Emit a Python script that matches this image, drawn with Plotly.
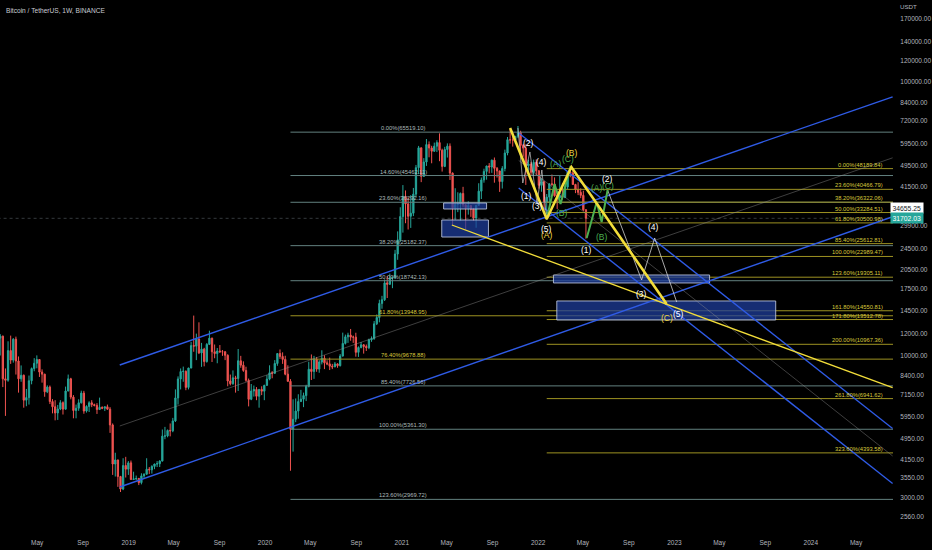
import numpy as np
import pandas as pd
import plotly.graph_objects as go

# ---------------- DATA ----------------
week_start = pd.date_range('2018-01-15', periods=226, freq='7D')

candle_open = [
 13650,11550,11750,8200,8100,10400,9600,11450,9530,8200,8450,6850,7000,8070,8940,9350,9650,8680,8530,7350,7650,6770,6480,6150,6360,6710,6350,7400,8200,7030,6280,6400,6700,7270,6250,6500,6700,6600,6550,6330,6450,6400,6480,6350,5560,4000,4140,3600,3240,3950,3830,
 4040,3510,3530,3540,3420,3620,3670,3830,3810,3920,4000,4010,4100,5060,5070,5310,5290,5750,6980,8190,8720,8740,7630,8980,10850,10800,11470,10200,10530,9480,10960,11550,10300,10140,10370,10300,10300,10000,8050,7870,8270,8220,9550,9200,8800,8100,6900,7400,7500,7080,7500,7390,
 7760,8180,8630,8590,9330,10150,9900,9660,8530,8030,5360,5830,6250,6770,6910,7120,7700,8890,8720,9670,8900,9450,9750,9380,9300,9120,9070,9300,9160,9930,11050,11680,11850,11650,11650,10250,10680,10920,10770,10660,11390,11500,13030,13740,15480,15960,18400,18180,19150,19270,23470,26440,
 32180,38150,35800,32260,33100,38870,48580,57410,45130,50970,59000,57350,55800,58200,60000,56250,49100,56600,58240,46400,34650,35660,35800,39100,35500,34700,35290,34240,31780,35400,39850,43800,47080,49270,48850,51750,48300,47260,43200,48230,54950,61500,61300,61300,63270,65500,58600,57270,49400,50100,46700,50800,
 47300,41860,43100,36300,37900,42400,42200,38350,37700,38400,37800,41260,46830,46400,42150,40380,39450,38470,34060]
candle_high = [
 14000,11950,11800,8950,11250,11800,11550,11700,9900,9180,8500,7530,8430,9020,9760,9990,9680,8880,8550,7760,7750,6910,6850,6580,6850,6780,7680,8500,8270,7150,6600,6900,7420,7410,6560,6790,6850,6650,6680,7000,6500,6470,6600,6460,5630,4400,4150,3620,4200,4250,4100,
 4120,3750,3630,3560,3700,3700,4200,3900,3960,4010,4100,4130,5350,5470,5350,5630,5900,7500,8370,8950,9090,8800,9000,11200,13970,12000,13200,11100,10650,11080,12300,11600,10950,10630,10900,10450,10350,10080,8500,8800,8410,10540,9950,9500,9080,8220,7850,7750,7650,7520,7700,7800,
 8460,9190,8750,9600,10150,10500,10250,9960,9190,8180,6900,6950,7200,7470,7300,7800,9470,10070,9950,9850,9600,10430,10000,9590,9800,9300,9450,9350,10100,12100,11900,12090,12480,11800,12090,10780,11180,10980,10950,11500,11720,13350,14100,15970,16500,18950,19500,19900,19420,24300,28400,34800,
 41950,40100,37850,38530,40950,49700,58350,57500,52640,61840,60600,58400,60000,61200,64850,57000,57900,59600,59600,46660,40850,39480,39400,41330,35700,36600,35300,34600,35400,42600,44700,48150,49380,50500,52000,52920,48850,47330,49200,56560,62900,67000,63700,63400,69000,66300,59300,59100,51950,51000,52000,52100,
 47550,44400,43500,38900,42650,45850,44750,39500,45400,42600,42300,46900,48190,47450,42400,42970,40800,40000,34240]
candle_low = [
 9035,9980,7650,6000,8000,9300,9400,8500,7300,8000,6430,6510,6600,7830,8740,8960,8330,7940,7050,7270,6630,6130,5780,5800,6300,6070,6330,7380,6900,5880,5880,6260,6660,6110,6170,6200,6460,6500,6100,6320,6350,6250,6320,5200,3650,3600,3300,3160,3210,3570,3650,
 3500,3500,3490,3350,3370,3560,3660,3680,3690,3830,3900,3900,4090,4930,5010,5050,5230,5700,6600,7500,8000,7450,7500,8960,10300,9600,10100,9070,9110,9400,10900,9450,9750,9350,10200,9950,9600,7700,7760,7800,7300,7400,9000,8700,8000,6500,6850,7060,6850,6430,7150,6850,
 7720,8100,8240,8550,9150,9700,9300,8450,8000,3780,4440,5690,5860,6770,6460,6800,7630,8120,8200,8700,8630,9260,8900,9200,8830,8900,9050,9000,9100,9900,10950,11100,11300,11100,9880,9860,10600,10140,10370,10530,11200,11400,12900,13200,14800,15800,16200,18100,17600,19000,22350,26000,
 28100,30420,28850,29240,32300,37990,46000,43000,44950,49300,53000,50400,55500,55400,51300,47000,48800,52900,43800,30000,31300,33400,31000,34800,28800,32700,32100,31000,29280,35200,37300,42800,43900,46300,46500,42800,44700,39600,40750,47100,53900,59500,58000,59400,62300,55600,53250,42000,45700,45500,45500,45700,
 40700,39650,34000,32900,36250,41650,38000,34300,37450,37150,37550,40500,44800,42100,39200,38550,37580,33700,26700]
candle_close = [
 11550,11750,8200,8100,10400,9600,11450,9530,8200,8450,6850,7000,8070,8940,9350,9650,8680,8530,7350,7650,6770,6480,6150,6360,6710,6350,7400,8200,7030,6280,6400,6700,7270,6250,6500,6700,6600,6550,6330,6450,6400,6480,6350,5560,4000,4140,3600,3240,3950,3830,4040,
 3510,3530,3540,3420,3620,3670,3830,3810,3920,4000,4010,4100,5060,5070,5310,5290,5750,6980,8190,8720,8740,7630,8980,10850,10800,11470,10200,10530,9480,10960,11550,10300,10140,10370,10300,10300,10000,8050,7870,8270,8220,9550,9200,8800,8100,6900,7400,7500,7080,7500,7390,7760,
 8180,8630,8590,9330,10150,9900,9660,8530,8030,5360,5830,6250,6770,6910,7120,7700,8890,8720,9670,8900,9450,9750,9380,9300,9120,9070,9300,9160,9930,11050,11680,11850,11650,11650,10250,10680,10920,10770,10660,11390,11500,13030,13740,15480,15960,18400,18180,19150,19270,23470,26440,32180,
 38150,35800,32260,33100,38870,48580,57410,45130,50970,59000,57350,55800,58200,60000,56250,49100,56600,58240,46400,34650,35660,35800,39100,35500,34700,35290,34240,31780,35400,39850,43800,47080,49270,48850,51750,48300,47260,43200,48230,54950,61500,61300,61300,63270,65500,58600,57270,49400,50100,46700,50800,47300,
 41860,43100,36300,37900,42400,42200,38350,37700,38400,37800,41260,46830,46400,42150,40380,39450,38470,34060,31702.03]

last_price = 31702.03
marker_price = 34655.25

# left Fibonacci retracement (log)
fibL_pct = [0.0, 14.6, 23.6, 38.2, 50.0, 61.8, 76.4, 85.4, 100.0, 123.6]
fibL_price = [65519.10, 45462.11, 36292.16, 25182.37, 18742.13, 13948.95, 9678.88, 7726.56, 5361.30, 2969.72]
fibL_gold = [False, False, False, False, False, True, True, False, False, False]
fibL_start, fibL_end, fibL_label_x = '2020-03-09', '2025-06-01', '2021-01-05'

# right Fibonacci extension (log)
fibR_pct = [0.0, 23.6, 38.2, 50.0, 61.8, 85.4, 100.0, 123.6, 161.8, 171.8, 200.0, 261.8, 323.6]
fibR_price = [48189.84, 40466.79, 36322.06, 33284.51, 30500.98, 25612.81, 22989.47, 19305.11, 14550.81, 13512.78, 10967.36, 6941.62, 4393.58]
fibR_start, fibR_end, fibR_label_x = '2022-01-24', '2025-06-01', '2024-07-18'

# rising channel
chan_up_x = ['2018-12-08', '2024-08-07']
chan_up_top = [9213, 88250]
chan_up_mid = [5511, 52780]
chan_up_bot = [3296, 32120]

# falling channel
chan_dn_x = ['2021-11-10', '2024-08-07']
chan_dn_top = [65070, 5395]
chan_dn_mid = [51620, 4280]
chan_dn_bot = [40930, 3395]

# yellow trend line
trend_x = ['2021-05-15', '2024-08-07']
trend_y = [29970, 7610]

# ABC correction (yellow)
abc_x = ['2021-10-18', '2022-01-24', '2022-03-31', '2022-12-11']
abc_y = [67870, 31520, 48860, 15400]

# impulse from top (thin white)
imp1_x = ['2021-11-08', '2021-11-21', '2021-12-10', '2021-12-29', '2022-01-11', '2022-01-24']
imp1_y = [67870, 42690, 55440, 36070, 47630, 31260]

# green corrective waves
grn1_x = ['2022-01-24', '2022-02-14', '2022-03-02', '2022-03-29']
grn1_y = [31520, 42330, 35770, 49260]
grn2_x = ['2022-05-11', '2022-06-07', '2022-06-20', '2022-07-06']
grn2_y = [26860, 36380, 30730, 40240]

# projected impulse (thin white)
imp2_x = ['2022-07-06', '2022-10-05', '2022-11-09', '2023-01-07']
imp2_y = [40240, 18860, 26860, 15660]

# zones (x0, x1, y0, y1)
zone_x0 = ['2021-04-23', '2021-04-18', '2022-02-11', '2022-02-20']
zone_x1 = ['2021-08-16', '2021-08-21', '2023-04-05', '2023-09-29']
zone_y0 = [34290, 27080, 18390, 13460]
zone_y1 = [36070, 31260, 19670, 15800]

# wave labels
lab_text = ['(2)', '(1)', '(3)', '(4)', '(5)', '(A)', '(B)', '(C)',
            '(A)', '(C)', '(B)', '(A)', '(C)', '(B)',
            '(2)', '(1)', '(4)', '(3)', '(5)']
lab_x = ['2021-12-05', '2021-12-02', '2021-12-31', '2022-01-11', '2022-01-24', '2022-01-24', '2022-04-03', '2022-12-11',
         '2022-02-17', '2022-03-21', '2022-03-05', '2022-06-07', '2022-07-06', '2022-06-20',
         '2022-07-06', '2022-05-11', '2022-11-06', '2022-10-05', '2023-01-12']
lab_y = [59800, 38260, 35180, 50950, 28970, 27550, 54970, 13690,
         50110, 52260, 33160, 40930, 41630, 27080,
         44160, 24280, 29460, 16760, 14160]
lab_kind = ['w', 'w', 'w', 'w', 'w', 'y', 'y', 'y',
            'g', 'g', 'g', 'g', 'g', 'g',
            'w', 'w', 'w', 'w', 'w']

xtick_vals = ['2018-05-01', '2018-09-01', '2019-01-01', '2019-05-01', '2019-09-01', '2020-01-01', '2020-05-01',
              '2020-09-01', '2021-01-01', '2021-05-01', '2021-09-01', '2022-01-01', '2022-05-01', '2022-09-01',
              '2023-01-01', '2023-05-01', '2023-09-01', '2024-01-01', '2024-05-01']
xtick_text = ['May', 'Sep', '2019', 'May', 'Sep', '2020', 'May', 'Sep', '2021', 'May', 'Sep', '2022',
              'May', 'Sep', '2023', 'May', 'Sep', '2024', 'May']
ytick_vals = [170000, 140000, 120000, 100000, 84000, 72000, 59500, 49500, 41500, 29900, 24500, 20500,
              17500, 14500, 12000, 10000, 8400, 7150, 5950, 4950, 4150, 3550, 3000, 2560]

# ---------------- STYLE ----------------
FONT = 'Liberation Sans, Arial, sans-serif'
BLUE = '#2f5be6'
GRAY_L = '#62807f'
GRAY_T = '#aebcbc'
GOLD_L = '#9d9222'
GOLD_T = '#d9c93c'
YEL = '#f2dd3a'
GRN = '#4cb050'

fig = go.Figure()

def line(x, y, color, width, dash=None):
    fig.add_trace(go.Scatter(x=x, y=y, mode='lines', hoverinfo='skip', showlegend=False,
                             line=dict(color=color, width=width, dash=dash)))

# fib lines
for p, g in zip(fibL_price, fibL_gold):
    line([fibL_start, fibL_end], [p, p], GOLD_L if g else GRAY_L, 1)
for p in fibR_price:
    line([fibR_start, fibR_end], [p, p], GOLD_L, 1)

# last price line
line([week_start[0], '2025-06-01'], [last_price, last_price], 'rgba(120,130,140,0.55)', 0.8, 'dot')

# candles
fig.add_trace(go.Candlestick(x=week_start, open=candle_open, high=candle_high, low=candle_low, close=candle_close,
                             increasing=dict(line=dict(color='#26a69a', width=1), fillcolor='#26a69a'),
                             decreasing=dict(line=dict(color='#ef5350', width=1), fillcolor='#ef5350'),
                             whiskerwidth=0, hoverinfo='skip', showlegend=False))

# zones
for a, b, c, d in zip(zone_x0, zone_x1, zone_y0, zone_y1):
    fig.add_trace(go.Scatter(x=[a, b, b, a, a], y=[c, c, d, d, c], mode='lines', fill='toself',
                             fillcolor='rgba(30,62,160,0.72)', line=dict(color='rgba(190,200,225,0.85)', width=1),
                             hoverinfo='skip', showlegend=False))

# channels
line(chan_up_x, chan_up_top, BLUE, 1.4)
line(chan_up_x, chan_up_bot, BLUE, 1.4)
line(chan_up_x, chan_up_mid, 'rgba(150,150,150,0.6)', 0.7)
line(chan_dn_x, chan_dn_top, BLUE, 1.4)
line(chan_dn_x, chan_dn_bot, BLUE, 1.4)
line(chan_dn_x, chan_dn_mid, 'rgba(150,150,150,0.6)', 0.7)

# trend line
line(trend_x, trend_y, YEL, 1.3)

# waves
line(imp1_x, imp1_y, 'rgba(220,220,220,0.8)', 0.8)
line(imp2_x, imp2_y, 'rgba(220,220,220,0.85)', 0.9)
line(grn1_x, grn1_y, GRN, 2)
line(grn2_x, grn2_y, GRN, 2)
line(abc_x, abc_y, YEL, 2.6)

ann = []
# fib labels
for pct, p, g in zip(fibL_pct, fibL_price, fibL_gold):
    ann.append(dict(x=fibL_label_x, y=np.log10(p), text=f'{pct:.2f}%({p:.2f})', showarrow=False,
                    xanchor='center', yanchor='bottom', yshift=-1,
                    font=dict(family=FONT, size=5.8, color=GOLD_T if g else GRAY_T)))
for pct, p in zip(fibR_pct, fibR_price):
    ann.append(dict(x=fibR_label_x, y=np.log10(p), text=f'{pct:.2f}%({p:.2f})', showarrow=False,
                    xanchor='right', yanchor='bottom', yshift=-1,
                    font=dict(family=FONT, size=5.8, color=GOLD_T)))
# wave labels
kc = {'w': '#ffffff', 'y': '#f0d840', 'g': '#4cb050'}
for t, x, y, k in zip(lab_text, lab_x, lab_y, lab_kind):
    ann.append(dict(x=x, y=np.log10(y), text=t, showarrow=False, xanchor='center', yanchor='middle',
                    font=dict(family=FONT, size=8.5, color=kc[k])))
# header texts
ann.append(dict(xref='paper', yref='paper', x=0.0045, y=0.981, text='Bitcoin / TetherUS, 1W, BINANCE',
                showarrow=False, xanchor='left', yanchor='middle',
                font=dict(family=FONT, size=6.6, color='#c9ccd4')))
ann.append(dict(xref='paper', yref='paper', x=1.0056, y=0.987, text='USDT', showarrow=False,
                xanchor='left', yanchor='middle', font=dict(family=FONT, size=6.2, color='#b2b5be')))
# price tags
ann.append(dict(xref='paper', x=0.9966, y=np.log10(marker_price), text=f'{marker_price:.2f}', showarrow=False,
                xanchor='left', yanchor='middle', bgcolor='#ffffff', borderpad=1.5,
                font=dict(family=FONT, size=6.8, color='#131722')))
ann.append(dict(xref='paper', x=0.9966, y=np.log10(last_price), text=f'{last_price:.2f}', showarrow=False,
                xanchor='left', yanchor='middle', bgcolor='#26a69a', borderpad=1.5,
                font=dict(family=FONT, size=6.8, color='#ffffff')))

fig.update_layout(
    width=932, height=550, paper_bgcolor='#000000', plot_bgcolor='#000000',
    margin=dict(l=0, r=39, t=0, b=22), showlegend=False, annotations=ann,
    xaxis=dict(type='date', range=['2018-01-21 10:00', '2024-08-08'], showgrid=False, zeroline=False,
               rangeslider=dict(visible=False), tickvals=xtick_vals, ticktext=xtick_text,
               ticks='outside', ticklen=8, tickcolor='rgba(0,0,0,0)',
               tickfont=dict(family=FONT, size=6.5, color='#b2b5be'), showline=False),
    yaxis=dict(type='log', range=[3.3680, 5.2999], side='right', showgrid=False, zeroline=False,
               tickvals=ytick_vals, ticktext=[f'{v:.2f}' for v in ytick_vals],
               ticks='outside', ticklen=5, tickcolor='rgba(0,0,0,0)',
               tickfont=dict(family=FONT, size=6.5, color='#b2b5be'), showline=False),
)

fig.write_html('out.html', config={'displayModeBar': False},
               post_script="document.body.style.margin='0';document.body.style.background='#000';")
